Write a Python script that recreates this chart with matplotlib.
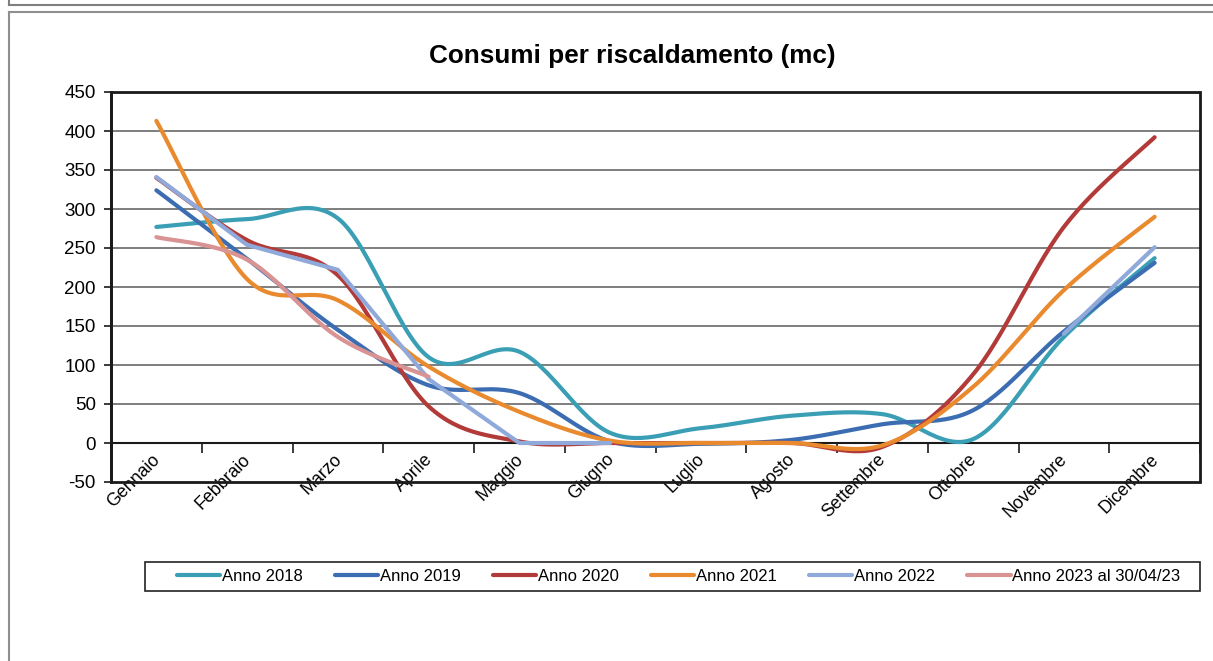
import numpy as np
import matplotlib
matplotlib.use("Agg")
import matplotlib.pyplot as plt
import matplotlib.transforms as mtransforms
from matplotlib.lines import Line2D
from matplotlib.patches import Rectangle

plt.rcParams['font.family'] = ['Liberation Sans', 'DejaVu Sans']
plt.rcParams['axes.unicode_minus'] = False

mesi = ['Gennaio', 'Febbraio', 'Marzo', 'Aprile', 'Maggio', 'Giugno',
        'Luglio', 'Agosto', 'Settembre', 'Ottobre', 'Novembre', 'Dicembre']

nan = np.nan
anno_2018 = [277, 287, 288, 110, 117, 13, 19, 35, 37, 5, 136, 237]
anno_2019 = [324, 236, 145, 74, 64, 2, -1, 4, 24, 42, 143, 231]
anno_2020 = [340, 260, 215, 47, 2, 0, 0, 0, -5, 88, 277, 392]
anno_2021 = [413, 210, 183, 98, 40, 3, 0, 0, -3, 72, 196, 290]
anno_2022 = [341, 254, 222, 82, 0, 0, nan, nan, nan, nan, 140, 251]
anno_2023 = [264, 235, 136, 85, nan, nan, nan, nan, nan, nan, nan, nan]

etichette = ['Anno 2018', 'Anno 2019', 'Anno 2020', 'Anno 2021', 'Anno 2022',
             'Anno 2023 al 30/04/23']
colori = ['#3A9FB5', '#3C6DB2', '#B23B39', '#E98A2F', '#8FA9DA', '#D99392']
smussate = [True, True, True, True, False, True]


def excel_smooth(x, y, n=30):
    """Bezier smoothing like Excel's 'smoothed line' (tension 1/6)."""
    xs, ys = [], []
    m = len(x)
    for i in range(m - 1):
        p0 = (x[max(i - 1, 0)], y[max(i - 1, 0)])
        p1 = (x[i], y[i])
        p2 = (x[i + 1], y[i + 1])
        p3 = (x[min(i + 2, m - 1)], y[min(i + 2, m - 1)])
        c1 = (p1[0] + (p2[0] - p0[0]) / 6, p1[1] + (p2[1] - p0[1]) / 6)
        c2 = (p2[0] - (p3[0] - p1[0]) / 6, p2[1] - (p3[1] - p1[1]) / 6)
        t = np.linspace(0, 1, n)
        a, b, c, d = (1 - t) ** 3, 3 * (1 - t) ** 2 * t, 3 * (1 - t) * t ** 2, t ** 3
        xs.extend(a * p1[0] + b * c1[0] + c * c2[0] + d * p2[0])
        ys.extend(a * p1[1] + b * c1[1] + c * c2[1] + d * p2[1])
    return np.array(xs), np.array(ys)


def runs(values):
    """Split a series into continuous runs (gaps where nan)."""
    out, cur = [], []
    for i, v in enumerate(values):
        if np.isnan(v):
            if cur:
                out.append(cur)
            cur = []
        else:
            cur.append(i)
    if cur:
        out.append(cur)
    return out


fig = plt.figure(figsize=(12.13, 6.61), dpi=100)
W, H = 1213, 661

# outer frames of the sheet
fig.add_artist(Line2D([8.5 / W, 1], [1 - 4.5 / H, 1 - 4.5 / H], color='#7f7f7f', lw=1.5))
fig.add_artist(Line2D([8.5 / W, 8.5 / W], [1, 1 - 4.5 / H], color='#7f7f7f', lw=1.5))
fig.add_artist(Line2D([9 / W, 1], [1 - 11.5 / H, 1 - 11.5 / H], color='#8f8f8f', lw=1.5))
fig.add_artist(Line2D([9 / W, 9 / W], [1 - 11.5 / H, 0], color='#8f8f8f', lw=1.5))

ax = fig.add_axes([111 / W, 1 - 482 / H, 1089 / W, 390 / H])
ax.set_xlim(-0.5, 11.5)
ax.set_ylim(-50, 450)

ax.set_yticks(np.arange(-50, 451, 50))
for v in range(50, 451, 50):
    ax.axhline(v, color='#747474', lw=1.3, zorder=1)

serie = [anno_2018, anno_2019, anno_2020, anno_2021, anno_2022, anno_2023]
x = np.arange(len(mesi))
for vals, lab, col, sm in zip(serie, etichette, colori, smussate):
    vals = np.array(vals, dtype=float)
    for k, r in enumerate(runs(vals)):
        xr, yr = x[r], vals[r]
        if sm and len(r) > 2:
            xr, yr = excel_smooth(xr, yr)
        ax.plot(xr, yr, color=col, lw=3, solid_capstyle='round',
                label=lab if k == 0 else None, zorder=3)

# plot area border
for s in ax.spines.values():
    s.set_visible(False)
ax.add_patch(Rectangle((0, 0), 1, 1, transform=ax.transAxes, fill=False,
                       edgecolor='#1a1a1a', lw=2, zorder=4, clip_on=False))
ax.spines['left'].set_visible(True)
ax.spines['left'].set_color('#1a1a1a')
ax.spines['left'].set_linewidth(2)
ax.spines['bottom'].set_visible(True)
ax.spines['bottom'].set_position(('data', 0))
ax.spines['bottom'].set_color('#1a1a1a')
ax.spines['bottom'].set_linewidth(1.5)
ax.spines['bottom'].set_zorder(2)

ax.set_xticks(x)
ax.set_xticklabels(mesi, rotation=45, ha='right', va='top',
                   rotation_mode='anchor', fontsize=12.8)
ax.set_xticks(np.arange(-0.5, 11.6, 1), minor=True)
ax.tick_params(axis='x', which='major', length=0, pad=5)
ax.tick_params(axis='x', which='minor', length=7, width=1.2, direction='out',
               color='#1a1a1a')
ax.tick_params(axis='y', length=5, width=1.2, direction='out', labelsize=13.5,
               color='#1a1a1a', pad=6)
shift = mtransforms.ScaledTranslation(-5 / 100, -1 / 100, fig.dpi_scale_trans)
for lbl in ax.get_xticklabels():
    lbl.set_transform(lbl.get_transform() + shift)

fig.text(632 / W, 1 - 56 / H, 'Consumi per riscaldamento (mc)', ha='center',
         va='center', fontsize=18.8, fontweight='bold')

# legend: entries without frame, frame drawn as a separate box
leg = fig.legend(loc='center left', ncol=6,
                 bbox_to_anchor=(177 / W, 1 - 576.5 / H),
                 fontsize=12, handlelength=2.6, handletextpad=0.08,
                 columnspacing=1.95, frameon=False, borderaxespad=0,
                 borderpad=0)
fig.add_artist(Rectangle((145 / W, 1 - 591 / H), 1055 / W, 29 / H,
                         transform=fig.transFigure, fill=False,
                         edgecolor='#222222', lw=1.2))

fig.savefig('out.png', dpi=100)
